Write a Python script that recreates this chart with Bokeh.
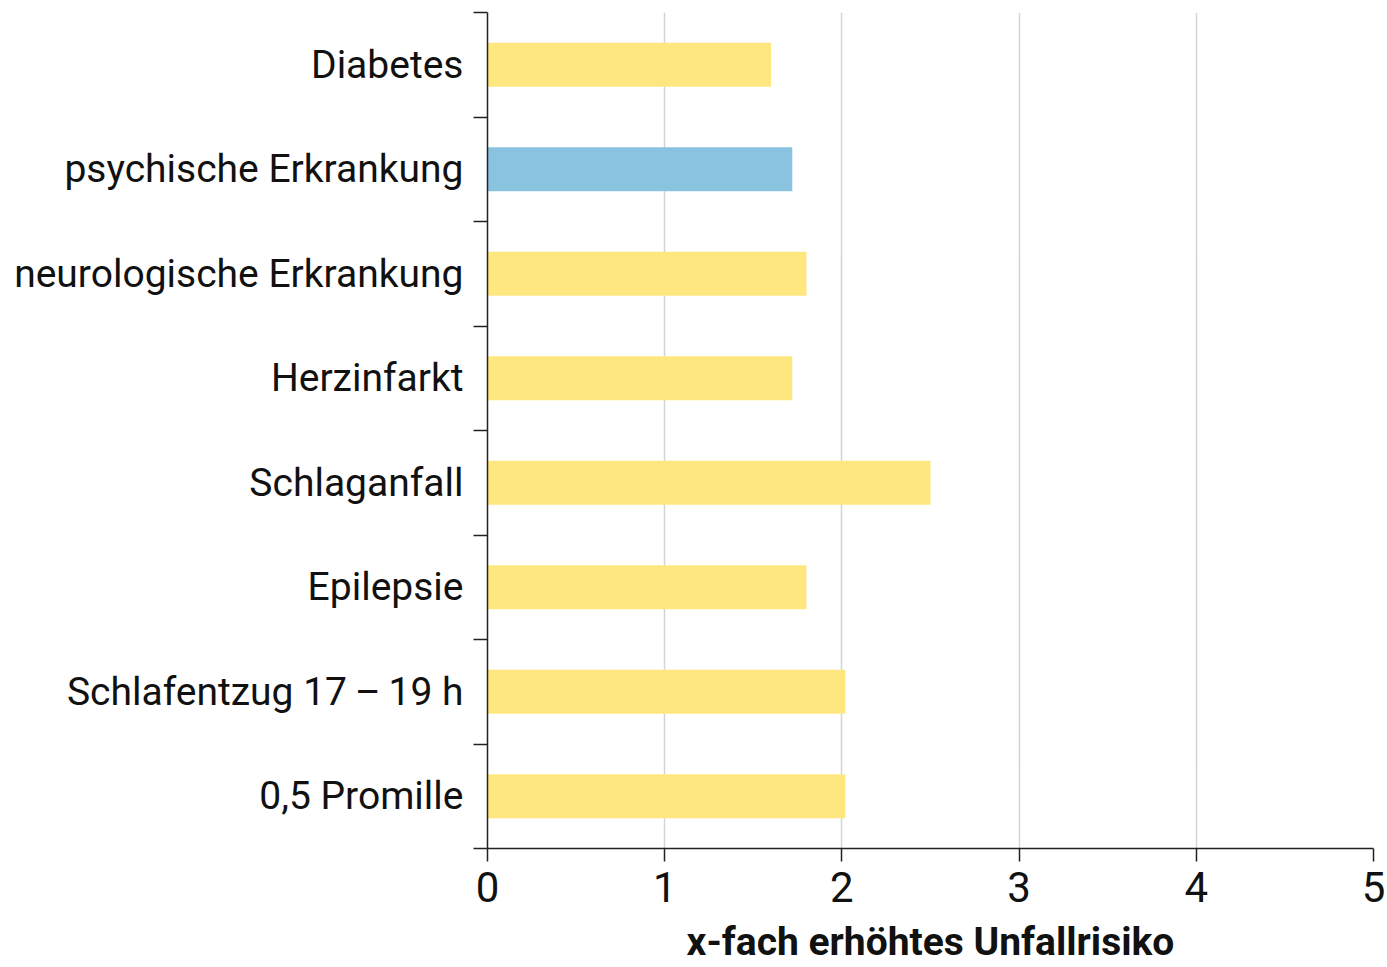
from bokeh.plotting import figure
from bokeh.models import Range1d, FixedTicker
from bokeh.embed import file_html
from bokeh.resources import INLINE

categories = ["Diabetes", "psychische Erkrankung", "neurologische Erkrankung",
              "Herzinfarkt", "Schlaganfall", "Epilepsie",
              "Schlafentzug 17\u2009\u2013\u200919 h", "0,5 Promille"]
values = [1.6, 1.72, 1.8, 1.72, 2.5, 1.8, 2.02, 2.02]
colors = ["#FFE780", "#8AC3DF", "#FFE780", "#FFE780", "#FFE780", "#FFE780", "#FFE780", "#FFE780"]
x_ticks = [0, 1, 2, 3, 4, 5]
x_title = "x-fach erh\u00f6htes Unfallrisiko"

n = len(categories)
ypos = [n - 0.5 - i for i in range(n)]
bounds = list(range(n + 1))

FONT = "Roboto"

p = figure(width=1387, height=967, output_backend="svg", toolbar_location=None,
           x_range=Range1d(0, 5), y_range=Range1d(0, n),
           min_border_left=487, min_border_right=14, min_border_top=12, min_border_bottom=119)
p.outline_line_color = None
p.background_fill_color = "white"

p.hbar(y=ypos, left=0, right=values, height=0.42, color=colors, line_color=None)

# x axis
xa = p.xaxis[0]
xa.ticker = FixedTicker(ticks=x_ticks)
xa.major_tick_out = 13
xa.major_tick_in = 0
xa.minor_tick_out = 0
xa.minor_tick_in = 0
xa.axis_line_width = 1.5
xa.axis_line_color = "#222222"
xa.major_tick_line_width = 1.5
xa.major_tick_line_color = "#222222"
xa.major_label_text_font = FONT
xa.major_label_text_font_size = "42px"
xa.major_label_text_color = "#111111"
xa.major_label_standoff = 10
xa.axis_label = x_title
xa.axis_label_text_font = FONT
xa.axis_label_text_font_style = "bold"
xa.axis_label_text_font_size = "39px"
xa.axis_label_text_color = "#111111"
xa.axis_label_standoff = 14

# y axis
ya = p.yaxis[0]
ya.ticker = FixedTicker(ticks=ypos, minor_ticks=bounds)
ya.major_tick_out = 0
ya.major_tick_in = 0
ya.minor_tick_out = 14
ya.minor_tick_in = 0
ya.minor_tick_line_width = 1.5
ya.minor_tick_line_color = "#222222"
ya.axis_line_width = 1.5
ya.axis_line_color = "#222222"
ya.major_label_overrides = {y: c for y, c in zip(ypos, categories)}
ya.major_label_text_font = FONT
ya.major_label_text_font_size = "39px"
ya.major_label_text_color = "#111111"
ya.major_label_standoff = 10

p.xgrid.ticker = FixedTicker(ticks=x_ticks[1:])
p.xgrid.grid_line_color = "#d4d4d4"
p.xgrid.grid_line_width = 1.5
p.ygrid.grid_line_color = None

open("out.html", "w").write(file_html(p, INLINE))
